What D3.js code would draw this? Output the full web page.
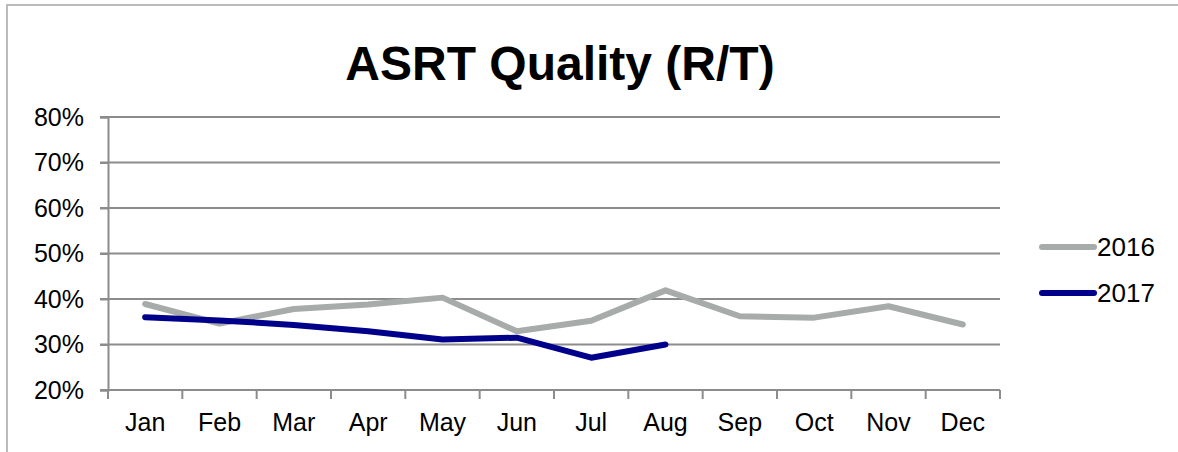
<!DOCTYPE html>
<html lang="en">
<head>
<meta charset="UTF-8">
<title>ASRT Quality (R/T)</title>
<style>
  body { margin: 0; background: #fff; }
  svg { display: block; font-family: "Liberation Sans", Arial, sans-serif; }
</style>
</head>
<body>
<svg width="1178" height="452"></svg>
<script src="https://d3js.org/d3.v7.min.js"></script>
<script>
    // data
    const months = ["Jan", "Feb", "Mar", "Apr", "May", "Jun", "Jul", "Aug", "Sep", "Oct", "Nov", "Dec"];
    const values2016 = [0.389, 0.346, 0.378, 0.388, 0.403, 0.329, 0.352, 0.419, 0.362, 0.359, 0.384, 0.344];
    const values2017 = [0.360, 0.353, 0.343, 0.329, 0.311, 0.315, 0.271, 0.300];
    const yTicks = [0.2, 0.3, 0.4, 0.5, 0.6, 0.7, 0.8];
    const seriesNames = ["2016", "2017"];
    const seriesColors = ["#a7abaa", "#00008b"];

    const svg = d3.select("svg");

    // chart frame (top and left edges only visible)
    svg.append("path")
        .attr("d", "M7,452 V5 H1178")
        .attr("fill", "none")
        .attr("stroke", "#b9bcbb")
        .attr("stroke-width", 2);

    const plotLeft = 108, plotRight = 1000, plotTop = 117, plotBottom = 390;

    const x = d3.scaleBand().domain(months).range([plotLeft, plotRight]);
    const y = d3.scaleLinear().domain([0.2, 0.8]).range([plotBottom, plotTop]);

    svg.append("text")
        .attr("x", 560)
        .attr("y", 80)
        .attr("text-anchor", "middle")
        .style("font-size", "48px")
        .style("font-weight", "bold")
        .text("ASRT Quality (R/T)");

    // gridlines
    svg.append("g")
        .selectAll("line")
        .data(yTicks)
        .join("line")
        .attr("x1", plotLeft - 8)
        .attr("x2", plotRight)
        .attr("y1", d => y(d))
        .attr("y2", d => y(d))
        .attr("stroke", "#8c8c8c")
        .attr("stroke-width", 2);

    // y axis
    const yAxis = svg.append("g")
        .attr("transform", "translate(" + plotLeft + ",0)")
        .call(d3.axisLeft(y).tickValues(yTicks).tickFormat(d3.format(".0%")).tickSize(8).tickPadding(16));
    yAxis.select(".domain").attr("stroke", "#8c8c8c").attr("stroke-width", 2);
    yAxis.selectAll(".tick line").attr("stroke", "#8c8c8c").attr("stroke-width", 2);
    yAxis.selectAll("text").style("font-size", "25px").attr("fill", "#000")
        .style("font-family", "Liberation Sans, Arial, sans-serif");

    // x axis: ticks at category boundaries
    const xAxis = svg.append("g")
        .attr("transform", "translate(0," + plotBottom + ")");
    xAxis.append("line")
        .attr("x1", plotLeft).attr("x2", plotRight)
        .attr("stroke", "#8c8c8c").attr("stroke-width", 2);
    xAxis.selectAll(".tk")
        .data(months.concat(["end"]))
        .join("line")
        .attr("class", "tk")
        .attr("x1", (d, i) => plotLeft + i * x.step())
        .attr("x2", (d, i) => plotLeft + i * x.step())
        .attr("y1", 0).attr("y2", 9)
        .attr("stroke", "#8c8c8c").attr("stroke-width", 2);
    xAxis.selectAll("text")
        .data(months)
        .join("text")
        .attr("x", d => x(d) + x.bandwidth() / 2)
        .attr("y", 41)
        .attr("text-anchor", "middle")
        .style("font-size", "25px")
        .text(d => d);

    const line = d3.line()
        .x((d, i) => x(months[i]) + x.bandwidth() / 2)
        .y(d => y(d));

    [values2016, values2017].forEach((vals, k) => {
        svg.append("path")
            .datum(vals)
            .attr("d", line)
            .attr("fill", "none")
            .attr("stroke", seriesColors[k])
            .attr("stroke-width", 6)
            .attr("stroke-linecap", "round")
            .attr("stroke-linejoin", "round");
    });

    // legend
    const legend = svg.append("g");
    seriesNames.forEach((name, k) => {
        const ly = 247 + k * 46;
        legend.append("line")
            .attr("x1", 1042).attr("x2", 1094)
            .attr("y1", ly).attr("y2", ly)
            .attr("stroke", seriesColors[k])
            .attr("stroke-width", 6)
            .attr("stroke-linecap", "round");
        legend.append("text")
            .attr("x", 1097)
            .attr("y", ly + 9)
            .style("font-size", "26px")
            .text(name);
    });
</script>
</body>
</html>
